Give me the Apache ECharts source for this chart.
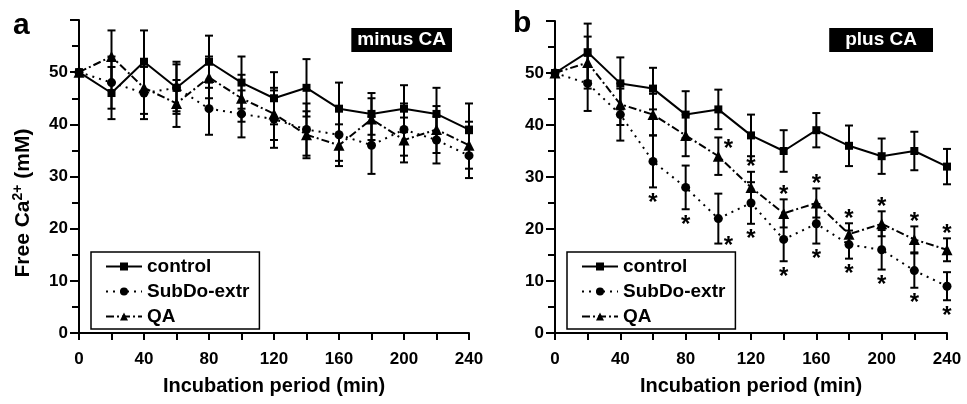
<!DOCTYPE html>
<html><head><meta charset="utf-8">
<script src="https://cdn.jsdelivr.net/npm/echarts@6/dist/echarts.min.js"></script>
<style>html,body{margin:0;padding:0;background:#fff}#c{width:967px;height:404px}</style>
</head><body><div id="c"></div>
<script>
// ---- data ----
const times = [0, 20, 40, 60, 80, 100, 120, 140, 160, 180, 200, 220, 240];
const xTicks = [0, 40, 80, 120, 160, 200, 240];
const yTicks = [0, 10, 20, 30, 40, 50];
const seriesNames = ['control', 'SubDo-extr', 'QA'];

// panel a : minus CA
const ctrlA    = [50, 46, 52, 47, 52, 48, 45, 47, 43, 42, 43, 42, 39];
const ctrlAErr = [0, 5, 6, 5, 5, 5, 5, 5.5, 5, 4, 4.5, 5, 5];
const subA     = [50, 48, 46, 47, 43, 42, 41, 39, 38, 36, 39, 37, 34];
const subAErr  = [0, 5, 5, 4.5, 5, 4.5, 5.5, 5, 5, 5.5, 5, 4.5, 4.3];
const qaA      = [50, 53, 47, 44, 49, 45, 42, 38, 36, 41, 37, 39, 36];
const qaAErr   = [0, 5, 5, 4.5, 4, 4.5, 5, 4.5, 4, 4, 4.3, 4.5, 4.5];

// panel b : plus CA
const ctrlB    = [50, 54, 48, 47, 42, 43, 38, 35, 39, 36, 34, 35, 32];
const ctrlBErr = [0, 5.5, 5, 4, 4.5, 3.8, 4, 4, 3.3, 3.9, 3.4, 3.7, 3.4];
const subB     = [50, 48, 42, 33, 28, 22, 25, 18, 21, 17, 16, 12, 9];
const subBErr  = [0, 5.3, 5, 5, 4.2, 4.8, 4, 4.2, 3.8, 2.7, 3.8, 3.3, 2.7];
const qaB      = [50, 52, 44, 42, 38, 34, 28, 23, 25, 19, 21, 18, 16];
const qaBErr   = [0, 5, 4, 4, 4, 3.6, 3, 2.7, 2.8, 2.1, 2.4, 2.5, 2.2];

// significance marks (*) in panel b
const sigSubB = [60, 80, 100, 120, 140, 160, 180, 200, 220, 240];
const sigQAB  = [100, 120, 140, 160, 180, 200, 220, 240];
const sideStarTimes = [100];

// ---- build ----
const FONT = 'Liberation Sans, Arial, Helvetica, sans-serif';
const styles = {
  'control':    {symbol: 'rect', size: 8, dash: 'solid'},
  'SubDo-extr': {symbol: 'circle', size: 9, dash: [2, 5]},
  'QA':         {symbol: 'triangle', size: 11, dash: [8, 3, 2, 3]}
};

function lineSeries(name, vals, gi) {
  const s = styles[name];
  return {
    name: name, type: 'line', xAxisIndex: gi, yAxisIndex: gi,
    data: times.map((t, i) => [t, vals[i]]),
    symbol: s.symbol, symbolSize: s.size, showSymbol: true,
    lineStyle: {color: '#000', width: 2, type: s.dash},
    itemStyle: {color: '#000'},
    z: 3, animation: false
  };
}
function errSeries(vals, errs, gi) {
  return {
    type: 'custom', xAxisIndex: gi, yAxisIndex: gi, silent: true,
    data: times.map((t, i) => [t, vals[i] - errs[i], vals[i] + errs[i]]),
    renderItem: function (params, api) {
      const x = api.value(0), lo = api.value(1), hi = api.value(2);
      if (hi - lo <= 0) return null;
      const a = api.coord([x, hi]), b = api.coord([x, lo]);
      const h = 4;
      const st = {stroke: '#000', lineWidth: 2};
      return {type: 'group', children: [
        {type: 'line', shape: {x1: a[0], y1: a[1], x2: b[0], y2: b[1]}, style: st},
        {type: 'line', shape: {x1: a[0] - h, y1: a[1], x2: a[0] + h, y2: a[1]}, style: st},
        {type: 'line', shape: {x1: b[0] - h, y1: b[1], x2: b[0] + h, y2: b[1]}, style: st}
      ]};
    },
    z: 2, animation: false
  };
}
function starSeries(sigTimes, vals, errs, dir, gi) {
  // dir = -1 : below the lower bar end ; +1 : above the upper bar end
  return {
    type: 'custom', xAxisIndex: gi, yAxisIndex: gi, silent: true,
    data: sigTimes.map(t => { const i = times.indexOf(t); return [t, vals[i] + dir * errs[i]]; }),
    renderItem: function (params, api) {
      const t = api.value(0);
      const p = api.coord([t, api.value(1)]);
      let x = p[0], y = p[1];
      if (sideStarTimes.indexOf(t) >= 0) { x += 10; y += (dir < 0 ? -2 : 7); }
      else { y += (dir < 0 ? 11 : -9); }
      return {type: 'text', x: x, y: y + 5, style: {text: '*', fill: '#000', font: 'bold 24px ' + FONT, align: 'center', verticalAlign: 'middle'}};
    },
    z: 4, animation: false
  };
}

function xAxis(gi) {
  return {
    type: 'value', gridIndex: gi, min: 0, max: 240, interval: 40,
    name: 'Incubation period (min)', nameLocation: 'middle', nameGap: 43,
    nameTextStyle: {fontFamily: FONT, fontWeight: 'bold', fontSize: 20, color: '#000'},
    axisLine: {show: true, onZero: false, lineStyle: {color: '#000', width: 2}},
    axisTick: {show: true, length: 7, lineStyle: {color: '#000', width: 2}},
    minorTick: {show: true, splitNumber: 2, length: 7, lineStyle: {color: '#000', width: 2}},
    axisLabel: {fontFamily: FONT, fontWeight: 'bold', fontSize: 17, color: '#000', margin: 18,
      formatter: v => (xTicks.indexOf(v) >= 0 ? String(v) : '')},
    splitLine: {show: false}
  };
}
function yAxis(gi) {
  return {
    type: 'value', gridIndex: gi, min: 0, max: 60, interval: 10,
    axisLine: {show: true, onZero: false, lineStyle: {color: '#000', width: 2}},
    axisTick: {show: true, length: 9, lineStyle: {color: '#000', width: 2}},
    minorTick: {show: true, splitNumber: 2, length: 7, lineStyle: {color: '#000', width: 2}},
    axisLabel: {fontFamily: FONT, fontWeight: 'bold', fontSize: 17, color: '#000', margin: 11,
      formatter: v => (yTicks.indexOf(v) >= 0 ? String(v) : '')},
    splitLine: {show: false}
  };
}
function legend(left) {
  return {
    orient: 'vertical', left: left, top: 252,
    data: seriesNames,
    padding: [5, 10, 3, 14], itemGap: 6,
    itemWidth: 36, itemHeight: 10,
    borderColor: '#000', borderWidth: 1.5, backgroundColor: '#fff',
    textStyle: {fontFamily: FONT, fontWeight: 'bold', fontSize: 19, color: '#000'},
    selectedMode: false
  };
}

const option = {
  animation: false,
  backgroundColor: '#fff',
  title: [
    {text: 'a', left: 8, top: 6, textStyle: {fontFamily: FONT, fontWeight: 'bold', fontSize: 30, color: '#000'}},
    {text: 'b', left: 508, top: 4, textStyle: {fontFamily: FONT, fontWeight: 'bold', fontSize: 30, color: '#000'}},
    {text: 'minus CA', right: 515, top: 28, backgroundColor: '#000', padding: [2, 6, 2, 6],
      textStyle: {fontFamily: FONT, fontWeight: 'bold', fontSize: 19, lineHeight: 20, color: '#fff'}},
    {text: 'plus CA', right: 34, top: 28, backgroundColor: '#000', padding: [2, 16, 2, 16],
      textStyle: {fontFamily: FONT, fontWeight: 'bold', fontSize: 19, lineHeight: 20, color: '#fff'}}
  ],
  graphic: [{
    type: 'text', x: 23, y: 203, rotation: Math.PI / 2,
    style: {
      text: '{a|Free Ca}{s|2+}{a| (mM)}',
      align: 'center', verticalAlign: 'middle',
      rich: {
        a: {fontFamily: FONT, fontWeight: 'bold', fontSize: 21, fill: '#000', lineHeight: 24},
        s: {fontFamily: FONT, fontWeight: 'bold', fontSize: 14, fill: '#000', lineHeight: 24, verticalAlign: 'top'}
      }
    }
  }],
  legend: [legend(91), legend(567)],
  grid: [
    {left: 79, right: 498, top: 20, bottom: 71},
    {left: 555, right: 20, top: 21, bottom: 71}
  ],
  xAxis: [xAxis(0), xAxis(1)],
  yAxis: [yAxis(0), yAxis(1)],
  series: [
    errSeries(ctrlA, ctrlAErr, 0), errSeries(subA, subAErr, 0), errSeries(qaA, qaAErr, 0),
    lineSeries('control', ctrlA, 0), lineSeries('SubDo-extr', subA, 0), lineSeries('QA', qaA, 0),
    errSeries(ctrlB, ctrlBErr, 1), errSeries(subB, subBErr, 1), errSeries(qaB, qaBErr, 1),
    lineSeries('control', ctrlB, 1), lineSeries('SubDo-extr', subB, 1), lineSeries('QA', qaB, 1),
    starSeries(sigSubB, subB, subBErr, -1, 1),
    starSeries(sigQAB, qaB, qaBErr, 1, 1)
  ]
};
const chart = echarts.init(document.getElementById('c'), null, {renderer: 'canvas'});
chart.setOption(option);
</script></body></html>
